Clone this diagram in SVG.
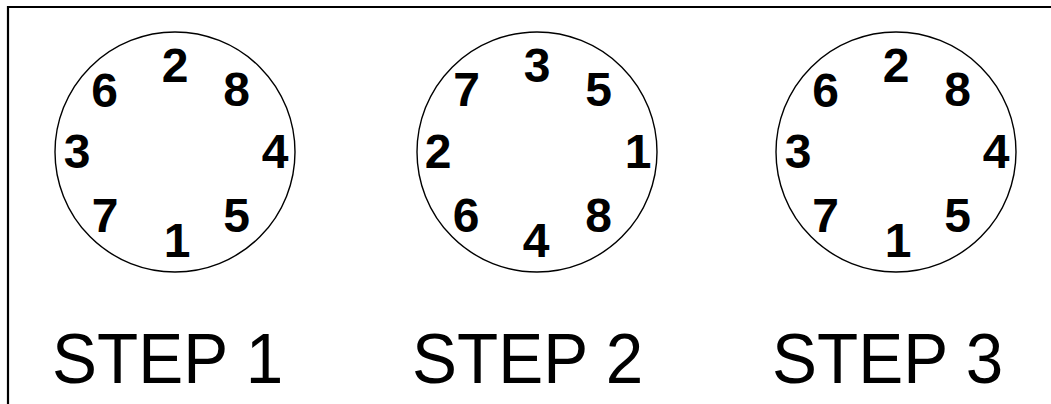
<svg xmlns="http://www.w3.org/2000/svg" width="1051" height="404" viewBox="0 0 1051 404">
<style>
.frame{stroke:#000;stroke-width:2.2;fill:none}
.dial{fill:#fff;stroke:#000;stroke-width:1.4}
.n{font-family:"Liberation Sans",Arial,sans-serif;font-weight:bold;font-size:48px;text-anchor:middle;fill:#000}
.step{font-family:"Liberation Sans",Arial,sans-serif;font-size:71px;fill:#000}
</style>
<rect width="1051" height="404" fill="#fff"/>
<g id="frame">
<path class="frame" d="M8 404 V7 H1051"/>
</g>
<g id="dial1">
<circle class="dial" cx="175" cy="152" r="120"/>
<text class="n" x="175" y="82">2</text>
<text class="n" x="104.5" y="107">6</text>
<text class="n" x="236.5" y="106">8</text>
<text class="n" x="77" y="168">3</text>
<text class="n" x="275" y="168">4</text>
<text class="n" x="105" y="232">7</text>
<text class="n" x="236.5" y="232">5</text>
<text class="n" x="177" y="257">1</text>
</g>
<g id="dial2">
<circle class="dial" cx="537" cy="152" r="120"/>
<text class="n" x="537" y="82">3</text>
<text class="n" x="466.5" y="106">7</text>
<text class="n" x="598.5" y="106">5</text>
<text class="n" x="438" y="168">2</text>
<text class="n" x="638" y="168">1</text>
<text class="n" x="466" y="232">6</text>
<text class="n" x="598.5" y="232">8</text>
<text class="n" x="536" y="257">4</text>
</g>
<g id="dial3">
<circle class="dial" cx="896" cy="152" r="120"/>
<text class="n" x="896" y="82">2</text>
<text class="n" x="825.5" y="107">6</text>
<text class="n" x="957.5" y="106">8</text>
<text class="n" x="798" y="168">3</text>
<text class="n" x="996" y="168">4</text>
<text class="n" x="825.5" y="232">7</text>
<text class="n" x="957.5" y="232">5</text>
<text class="n" x="898" y="257">1</text>
</g>
<g id="label1"><text class="step" transform="translate(52 383) scale(0.95 1)">STEP 1</text></g>
<g id="label2"><text class="step" transform="translate(412 383) scale(0.95 1)">STEP 2</text></g>
<g id="label3"><text class="step" transform="translate(772 383) scale(0.95 1)">STEP 3</text></g>
</svg>
